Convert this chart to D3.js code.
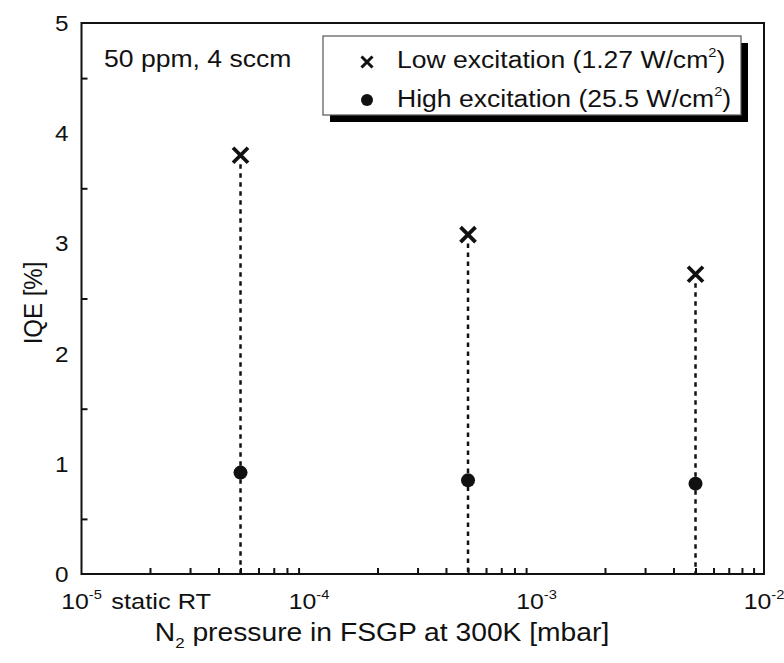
<!DOCTYPE html>
<html lang="en">
<head>
	<meta charset="UTF-8">
	<title>IQE vs N2 pressure</title>
	<script src="https://cdn.jsdelivr.net/npm/d3@7/dist/d3.min.js"></script>
	<style>
		body { margin: 0; background: #fff; }
		svg text { font-family: "Liberation Sans", Arial, sans-serif; fill: #111; }
	</style>
</head>
<body>
	<div id="container"></div>

	<script>

			// data
			var pressures = [5e-5, 5e-4, 5e-3];
			var lowExcitation = [3.80, 3.08, 2.72];
			var highExcitation = [0.92, 0.85, 0.82];
			var yTicks = [0, 1, 2, 3, 4, 5];
			var yMinorTicks = [0.5, 1.5, 2.5, 3.5, 4.5];
			var xDecades = [-5, -4, -3, -2];
			var legendLabels = ["Low excitation (1.27 W/cm", "High excitation (25.5 W/cm"];

			var width = 784;
			var height = 663;
			var margin = { left: 81.5, right: 20, top: 23, bottom: 89 };
			var stretch = 1.13;   // the original is a bit wide, text gets stretched to match

			var svg = d3.select("#container").append("svg")
					.attr("width", width)
					.attr("height", height);

			var x = d3.scaleLog()
				.domain([1e-5, 1e-2])
				.range([margin.left, width - margin.right]);

			var y = d3.scaleLinear()
				.domain([0, 5])
				.range([height - margin.bottom, margin.top]);

			function place(sel, px, py) {
				return sel.attr("transform", "translate(" + px + "," + py + ") scale(" + stretch + ",1)");
			}

			// axes, ticks inward
			var xMinor = [];
			for (var d = -5; d < -2; d++) {
				for (var k = 2; k <= 9; k++) xMinor.push(k * Math.pow(10, d));
			}

			var xAxis = d3.axisBottom(x)
				.tickValues(xDecades.map(function(e){ return Math.pow(10, e); }))
				.tickSizeInner(-11).tickSizeOuter(0).tickFormat("");
			var xAxisMinor = d3.axisBottom(x)
				.tickValues(xMinor).tickSizeInner(-6).tickSizeOuter(0).tickFormat("");
			var yAxis = d3.axisLeft(y)
				.tickValues(yTicks).tickSizeInner(-11).tickSizeOuter(0).tickFormat("");
			var yAxisMinor = d3.axisLeft(y)
				.tickValues(yMinorTicks).tickSizeInner(-6).tickSizeOuter(0).tickFormat("");

			var gx = svg.append("g").attr("transform", "translate(0," + y(0) + ")");
			gx.call(xAxis);
			gx.call(xAxisMinor);
			var gy = svg.append("g").attr("transform", "translate(" + x(1e-5) + ",0)");
			gy.call(yAxis);
			gy.call(yAxisMinor);
			svg.selectAll(".domain").remove();
			svg.selectAll(".tick line").attr("stroke", "#111").attr("stroke-width", 2);

			// frame
			svg.append("rect")
				.attr("x", x(1e-5))
				.attr("y", y(5))
				.attr("width", x(1e-2) - x(1e-5))
				.attr("height", y(0) - y(5))
				.attr("fill", "none")
				.attr("stroke", "#111")
				.attr("stroke-width", 2);

			// tick labels
			yTicks.forEach(function(t){
				place(svg.append("text"), x(1e-5) - 13, y(t) + 8)
					.attr("text-anchor", "end")
					.attr("font-size", 21.5)
					.text(t);
			});

			xDecades.forEach(function(e){
				var t = place(svg.append("text"), x(Math.pow(10, e)), 609)
					.attr("text-anchor", "middle")
					.attr("font-size", 22);
				t.append("tspan").text("10");
				t.append("tspan").attr("font-size", 13).attr("dy", -10).text(e);
			});

			place(svg.append("text"), x(2.24e-5), 609)
				.attr("text-anchor", "middle")
				.attr("font-size", 22.5)
				.text("static RT");

			// axis titles
			var xt = place(svg.append("text"), 382, 641)
				.attr("text-anchor", "middle")
				.attr("font-size", 25);
			xt.append("tspan").text("N");
			xt.append("tspan").attr("font-size", 15).attr("dy", 7).text("2");
			xt.append("tspan").attr("dy", -7).text(" pressure in FSGP at 300K [mbar]");

			svg.append("text")
				.attr("transform", "translate(42," + 303 + ") rotate(-90) scale(1,1.08)")
				.attr("text-anchor", "middle")
				.attr("font-size", 24)
				.text("IQE [%]");

			// annotation
			place(svg.append("text"), 104, 67)
				.attr("font-size", 23.5)
				.text("50 ppm, 4 sccm");

			// dotted drop lines
			svg.selectAll(".drop")
				.data(pressures)
				.enter().append("line")
					.attr("class", "drop")
					.attr("x1", function(d){ return x(d); })
					.attr("x2", function(d){ return x(d); })
					.attr("y1", function(d, i){ return y(lowExcitation[i]) + 9; })
					.attr("y2", y(0))
					.attr("stroke", "#111")
					.attr("stroke-width", 2.5)
					.attr("stroke-dasharray", "4.5,4.5");

			function cross(g, cx, cy, r, w) {
				g.append("path")
					.attr("d", "M" + (cx - r) + "," + (cy - r) + "L" + (cx + r) + "," + (cy + r) +
						"M" + (cx - r) + "," + (cy + r) + "L" + (cx + r) + "," + (cy - r))
					.attr("stroke", "#111")
					.attr("stroke-width", w)
					.attr("fill", "none");
			}

			pressures.forEach(function(p, i){
				cross(svg, x(p), y(lowExcitation[i]), 7.5, 3.8);
			});

			svg.selectAll(".dot")
				.data(pressures)
				.enter().append("circle")
					.attr("class", "dot")
					.attr("cx", function(d){ return x(d); })
					.attr("cy", function(d, i){ return y(highExcitation[i]); })
					.attr("r", 7)
					.attr("fill", "#111");

			// legend with drop shadow
			var lg = svg.append("g");
			lg.append("rect")
				.attr("x", 330).attr("y", 43).attr("width", 418).attr("height", 79)
				.attr("fill", "#000");
			lg.append("rect")
				.attr("x", 323).attr("y", 36).attr("width", 418).attr("height", 79)
				.attr("fill", "#fff")
				.attr("stroke", "#555")
				.attr("stroke-width", 1.2);

			cross(lg, 367, 62, 5.5, 3);
			lg.append("circle").attr("cx", 367).attr("cy", 100).attr("r", 6).attr("fill", "#111");

			legendLabels.forEach(function(s, i){
				var t = place(lg.append("text"), 397, 68 + i * 39)
					.attr("font-size", 23.5);
				t.append("tspan").text(s);
				t.append("tspan").attr("font-size", 13).attr("dy", -11).text("2");
				t.append("tspan").attr("dy", 11).text(")");
			});

	</script>
</body>
</html>
